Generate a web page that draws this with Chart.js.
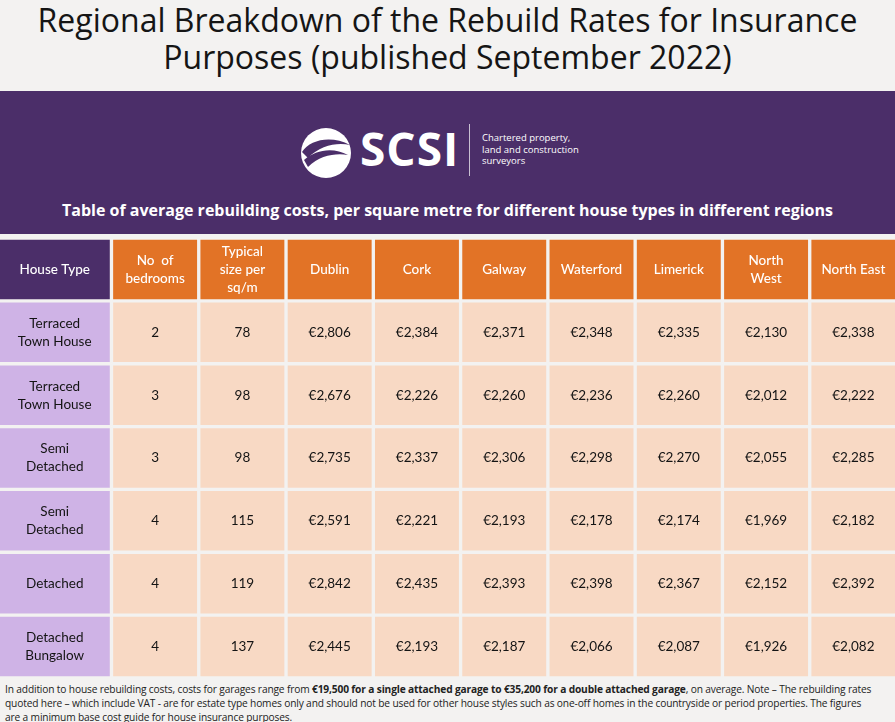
<!DOCTYPE html>
<html>
<head>
<meta charset="utf-8">
<script src="https://cdn.jsdelivr.net/npm/chart.js@4.4.0/dist/chart.umd.min.js"></script>
<style>
  body { margin: 0; width: 895px; height: 722px; overflow: hidden; background: #f3f2f1; font-family: "Open Sans", sans-serif; position: relative; }
  #title { position: absolute; top: 1px; left: 0; width: 895px; text-align: center; font-size: 32px; line-height: 37px; color: #151515; }
  #banner { position: absolute; top: 91px; left: 0; width: 895px; height: 143px; background: #4b2e69; }
  #logoText { position: absolute; left: 360px; top: 117px; font-size: 46px; font-weight: 700; color: #fff; letter-spacing: 1px; }
  #divider { position: absolute; left: 469px; top: 124px; width: 1px; height: 52px; background: rgba(255,255,255,0.7); }
  #tagline { position: absolute; left: 482px; top: 132px; font-size: 9.5px; line-height: 11.5px; color: #fff; }
  #subtitle { position: absolute; top: 199px; left: 0; width: 895px; text-align: center; font-size: 16px; font-weight: 700; color: #fff; }
  #tableBox { position: absolute; top: 238px; left: -2px; width: 899px; height: 440px; }
  #footer { position: absolute; top: 682px; left: 5px; font-size: 10.2px; letter-spacing: -0.15px; line-height: 14px; color: #222; white-space: nowrap; }
</style>
</head>
<body>
<div id="title">Regional Breakdown of the Rebuild Rates for Insurance<br>Purposes (published September 2022)</div>
<div id="banner"></div>
<svg style="position:absolute;left:298px;top:125px" width="56" height="56" viewBox="0 0 56 56">
  <circle cx="28" cy="28" r="25" fill="#fff"/>
  <path d="M4 27 C12 14 34 10 52 20 C40 17 22 20 10 33 Z" fill="#4b2e69"/>
  <path d="M6 35 C18 24 36 22 50 30 C38 28 22 30 10 42 Z" fill="#4b2e69"/>
</svg>
<div id="logoText">SCSI</div>
<div id="divider"></div>
<div id="tagline">Chartered property,<br>land and construction<br>surveyors</div>
<div id="subtitle">Table of average rebuilding costs, per square metre for different house types in different regions</div>
<div id="tableBox"><canvas id="tableChart"></canvas></div>
<div id="footer">In addition to house rebuilding costs, costs for garages range from <b>€19,500 for a single attached garage to €35,200 for a double attached garage</b>, on average. Note – The rebuilding rates<br>quoted here – which include VAT - are for estate type homes only and should not be used for other house styles such as one-off homes in the countryside or period properties. The figures<br>are a minimum base cost guide for house insurance purposes.</div>

<script>
// column headers (line breaks as in the original)
const columnHeaders = [
    ['House Type'],
    ['No  of', 'bedrooms'],
    ['Typical', 'size per', 'sq/m'],
    ['Dublin'], ['Cork'], ['Galway'], ['Waterford'], ['Limerick'],
    ['North', 'West'], ['North East']
];

const houseTypes = [
    ['Terraced', 'Town House'],
    ['Terraced', 'Town House'],
    ['Semi', 'Detached'],
    ['Semi', 'Detached'],
    ['Detached'],
    ['Detached', 'Bungalow']
];

const bedrooms = [2, 3, 3, 4, 4, 4];
const typicalSize = [78, 98, 98, 115, 119, 137];

// rebuild cost per sq m (€)
const dublin = [2806, 2676, 2735, 2591, 2842, 2445];
const cork = [2384, 2226, 2337, 2221, 2435, 2193];
const galway = [2371, 2260, 2306, 2193, 2393, 2187];
const waterford = [2348, 2236, 2298, 2178, 2398, 2066];
const limerick = [2335, 2260, 2270, 2174, 2367, 2087];
const northWest = [2130, 2012, 2055, 1969, 2152, 1926];
const northEast = [2338, 2222, 2285, 2182, 2392, 2082];

// layout: relative column widths (the first column is wider)
const colSpan = [1.3, 1, 1, 1, 1, 1, 1, 1, 1, 1];
const gapColor = '#f3f2f1';

const regionCols = [dublin, cork, galway, waterford, limerick, northWest, northEast];

function cellLines(col, row) {
    if (row === 0) return columnHeaders[col];
    const r = row - 1;
    if (col === 0) return houseTypes[r];
    if (col === 1) return [String(bedrooms[r])];
    if (col === 2) return [String(typicalSize[r])];
    return ['€' + regionCols[col - 3][r].toLocaleString('en-US')];
}

function cellColor(col, row) {
    if (row === 0) return col === 0 ? '#4b2e69' : '#e27326';
    return col === 0 ? '#cfb3e6' : '#f8d9c4';
}

const rowLabels = ['Header', ...houseTypes.map(h => h.join(' '))];

const datasets = columnHeaders.map((h, c) => ({
    label: h.join(' '),
    data: rowLabels.map(() => colSpan[c]),
    backgroundColor: rowLabels.map((_, r) => cellColor(c, r)),
    borderColor: gapColor,
    borderWidth: 2,
    borderSkipped: false,
    stack: 'table'
}));

// draws the cell text
const cellText = {
    id: 'cellText',
    afterDatasetsDraw(chart) {
        const ctx = chart.ctx;
        ctx.save();
        ctx.textAlign = 'center';
        ctx.textBaseline = 'middle';
        chart.data.datasets.forEach((ds, c) => {
            const meta = chart.getDatasetMeta(c);
            meta.data.forEach((el, r) => {
                const lines = cellLines(c, r);
                const cx = (el.x + el.base) / 2;
                const lh = 18;
                const top = el.y - (lines.length - 1) * lh / 2;
                ctx.fillStyle = r === 0 ? '#ffffff' : '#141414';
                ctx.font = (r === 0 ? '500 ' : '400 ') + '13.5px Lato';
                lines.forEach((t, i) => ctx.fillText(t, cx, top + i * lh));
            });
        });
        ctx.restore();
    }
};

new Chart(document.getElementById('tableChart'), {
    type: 'bar',
    data: { labels: rowLabels, datasets: datasets },
    options: {
        indexAxis: 'y',
        responsive: true,
        maintainAspectRatio: false,
        animation: false,
        layout: { padding: 0 },
        datasets: { bar: { barPercentage: 1, categoryPercentage: 1 } },
        plugins: { legend: { display: false }, tooltip: { enabled: false } },
        scales: {
            x: { stacked: true, display: false, min: 0, max: colSpan.reduce((a, b) => a + b, 0) },
            y: { stacked: true, display: false }
        }
    },
    plugins: [cellText]
});
</script>
</body>
</html>
